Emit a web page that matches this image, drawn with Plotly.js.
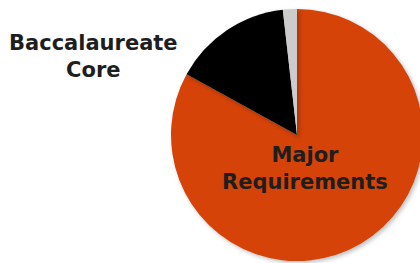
<!DOCTYPE html>
<html>
<head>
<meta charset="utf-8">
<script src="https://cdn.plot.ly/plotly-3.0.1.min.js"></script>
<style>
html, body { margin: 0; padding: 0; overflow: hidden; background: #fff; }
#chart { width: 430px; height: 263px; }
.slice path { filter: drop-shadow(2px 2px 2px rgba(0,0,0,0.25)); }
</style>
</head>
<body>
<div id="chart"></div>
<script>
const labels = ["Major Requirements", "Baccalaureate Core", "Other"];
const values = [83, 15.2, 1.8];
const colors = ["#D64309", "#000000", "#CCCCCC"];
const labelLines = ["Major<br>Requirements", "Baccalaureate<br>Core"];

const trace = {
  type: "pie",
  labels: labels,
  values: values,
  sort: false,
  direction: "clockwise",
  rotation: 0,
  marker: { colors: colors, line: { width: 0 } },
  textinfo: "none",
  hoverinfo: "label+value",
  showlegend: false,
  domain: { x: [171/430, 423/430], y: [2/263, 254/263] }
};

const font = { family: "DejaVu Sans", size: 21, color: "#1e1e1e", weight: "bold" };

const layout = {
  width: 430,
  height: 263,
  margin: { l: 0, r: 0, t: 0, b: 0 },
  paper_bgcolor: "#ffffff",
  showlegend: false,
  annotations: [
    { text: "<b>" + labelLines[0] + "</b>", x: 305/430, y: 1 - 168/263, xref: "paper", yref: "paper",
      xanchor: "center", yanchor: "middle", showarrow: false, font: font },
    { text: "<b>" + labelLines[1] + "</b>", x: 93/430, y: 1 - 56/263, xref: "paper", yref: "paper",
      xanchor: "center", yanchor: "middle", showarrow: false, font: font }
  ]
};

Plotly.newPlot("chart", [trace], layout, { displayModeBar: false, staticPlot: true });
</script>
</body>
</html>
